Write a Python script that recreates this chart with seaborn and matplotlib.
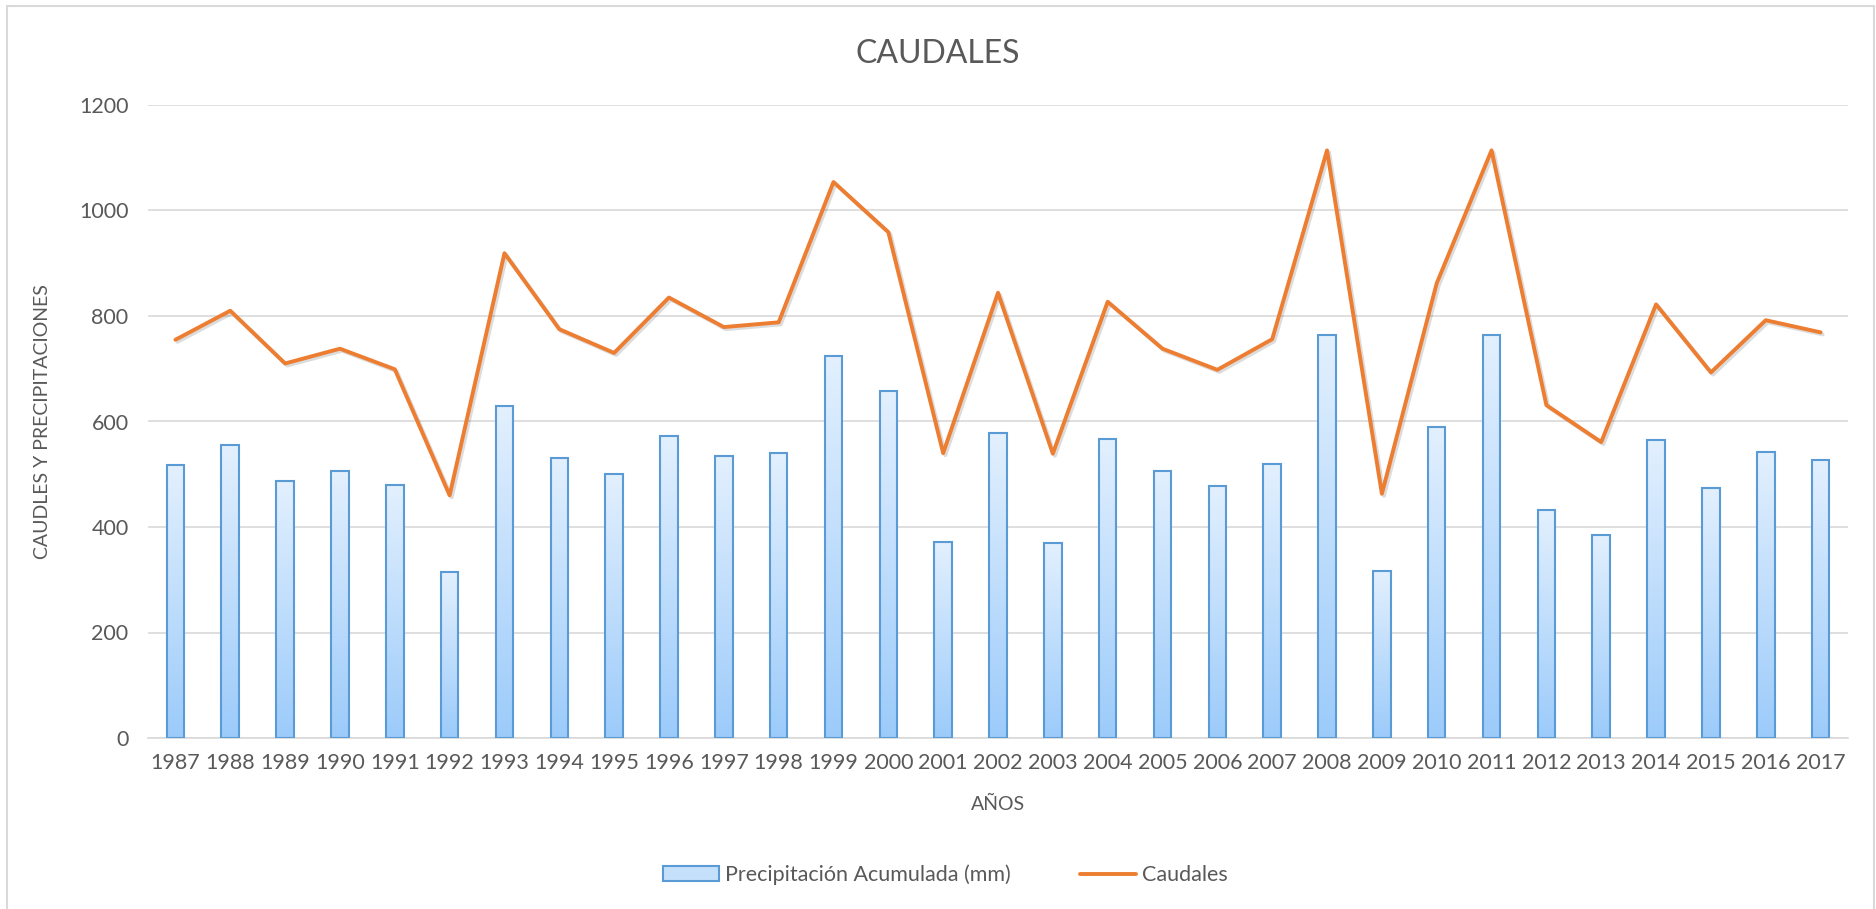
"""
Caudales y precipitaciones 1987-2017
"""

import numpy as np
import pandas as pd
import seaborn as sns
import matplotlib.pyplot as plt
import matplotlib.patheffects as pe
from matplotlib.patches import Patch, Rectangle
from matplotlib.lines import Line2D
from matplotlib.colors import LinearSegmentedColormap

# Datos
anios = [str(a) for a in range(1987, 2018)]
precipitacion = [517, 556, 487, 506, 479, 314, 629, 531, 501, 573, 534, 540,
                 724, 658, 371, 578, 370, 567, 507, 478, 519, 764, 317, 589,
                 764, 433, 385, 564, 474, 543, 527]
caudales = [755, 810, 710, 738, 699, 460, 919, 775, 730, 835, 779, 788,
            1054, 959, 540, 844, 539, 827, 738, 698, 756, 1114, 463, 862,
            1114, 631, 561, 822, 693, 792, 769]

GRIS = "#595959"
AZUL_BORDE = "#5b9bd5"
NARANJA = "#ed7d31"

sns.set_theme(style="white")
plt.rcParams["font.family"] = ["Lato", "DejaVu Sans"]

df = pd.DataFrame({"anio": anios, "precipitacion": precipitacion, "caudales": caudales})

fig = plt.figure(figsize=(18.76, 9.09), dpi=100)
ax = fig.add_axes([148 / 1876, 1 - 738 / 909, 1700 / 1876, 633 / 909])

# borde del area del grafico
fig.patches.append(Rectangle((7 / 1876, -0.01), 1867 / 1876, 1 - 6 / 909 + 0.01,
                             transform=fig.transFigure, fill=False,
                             edgecolor="#d9d9d9", linewidth=1.5))

sns.barplot(data=df, x="anio", y="precipitacion", ax=ax, width=0.32,
            color="#c5e0fb", edgecolor=AZUL_BORDE, linewidth=1.5, zorder=3)

# degradado en las barras
cmap = LinearSegmentedColormap.from_list("grad", ["#9ccbfa", "#e3f0fe"])
grad = np.linspace(0, 1, 256).reshape(-1, 1)
for bar in ax.patches:
    x0, y0 = bar.get_x(), bar.get_y()
    w, h = bar.get_width(), bar.get_height()
    img = ax.imshow(grad, cmap=cmap, origin="lower", aspect="auto",
                    extent=[x0, x0 + w, y0, y0 + h], zorder=3.1)
    img.set_clip_path(bar)
    bar.set_facecolor("none")
    bar.set_zorder(3.2)

x_pos = np.arange(len(anios))
sns.lineplot(x=x_pos, y=caudales, ax=ax, color=NARANJA, linewidth=2.8, zorder=4,
             path_effects=[pe.SimpleLineShadow(offset=(1.5, -1.5), alpha=0.15),
                           pe.Normal()])

ax.set_xlim(-0.5, len(anios) - 0.5)
ax.set_ylim(0, 1200)
ax.set_yticks(range(0, 1201, 200))
ax.set_xticks(x_pos)
ax.set_xticklabels(anios)
ax.yaxis.grid(True, color="#d9d9d9", linewidth=1.2, zorder=0)
ax.set_axisbelow(True)
for s in ["top", "right", "left"]:
    ax.spines[s].set_visible(False)
ax.spines["bottom"].set_color("#d9d9d9")
ax.spines["bottom"].set_linewidth(1.2)
ax.tick_params(axis="both", length=0, colors=GRIS, labelsize=15.5)
ax.tick_params(axis="x", pad=11)
ax.tick_params(axis="y", pad=14)

ax.set_xlabel("AÑOS", fontsize=14, color=GRIS, labelpad=16)
ax.set_ylabel("CAUDLES Y PRECIPITACIONES", fontsize=14, color=GRIS, labelpad=20)

fig.text(0.5, 1 - 54 / 909, "CAUDALES", ha="center", va="center",
         fontsize=23, color=GRIS)

handles = [Patch(facecolor="#c5e0fb", edgecolor=AZUL_BORDE, linewidth=1.5),
           Line2D([0], [0], color=NARANJA, linewidth=2.8)]
fig.legend(handles, ["Precipitación Acumulada (mm)", "Caudales"],
           loc="center", bbox_to_anchor=(0.504, 1 - 875 / 909), ncol=2,
           frameon=False, fontsize=15.5, labelcolor=GRIS,
           handlelength=2.6, handletextpad=0.3, columnspacing=3.2)

plt.savefig("out.png", dpi=100)
